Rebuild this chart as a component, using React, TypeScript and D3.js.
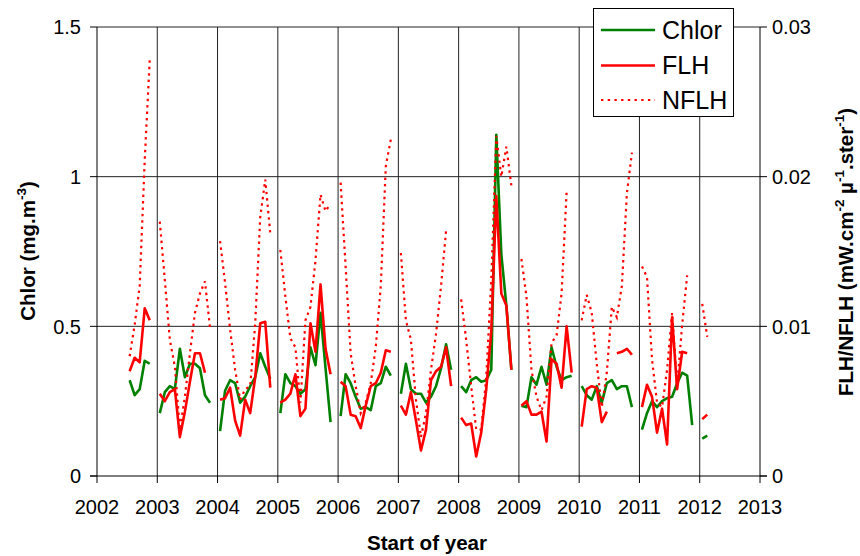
import React from 'react';
import * as d3 from 'd3';

const months: string[] = [
  '2002-07','2002-08','2002-09','2002-10','2002-11','2002-12',
  '2003-01','2003-02','2003-03','2003-04','2003-05','2003-06','2003-07','2003-08','2003-09','2003-10','2003-11','2003-12',
  '2004-01','2004-02','2004-03','2004-04','2004-05','2004-06','2004-07','2004-08','2004-09','2004-10','2004-11','2004-12',
  '2005-01','2005-02','2005-03','2005-04','2005-05','2005-06','2005-07','2005-08','2005-09','2005-10','2005-11','2005-12',
  '2006-01','2006-02','2006-03','2006-04','2006-05','2006-06','2006-07','2006-08','2006-09','2006-10','2006-11','2006-12',
  '2007-01','2007-02','2007-03','2007-04','2007-05','2007-06','2007-07','2007-08','2007-09','2007-10','2007-11','2007-12',
  '2008-01','2008-02','2008-03','2008-04','2008-05','2008-06','2008-07','2008-08','2008-09','2008-10','2008-11','2008-12',
  '2009-01','2009-02','2009-03','2009-04','2009-05','2009-06','2009-07','2009-08','2009-09','2009-10','2009-11','2009-12',
  '2010-01','2010-02','2010-03','2010-04','2010-05','2010-06','2010-07','2010-08','2010-09','2010-10','2010-11','2010-12',
  '2011-01','2011-02','2011-03','2011-04','2011-05','2011-06','2011-07','2011-08','2011-09','2011-10','2011-11','2011-12',
  '2012-01','2012-02',
];

const chlor: (number | null)[] = [
  0.32, 0.27, 0.29, 0.385, 0.375, null,
  0.21, 0.28, 0.30, 0.29, 0.425, 0.33, 0.375, 0.375, 0.36, 0.27, 0.245, null,
  0.15, 0.285, 0.32, 0.31, 0.245, 0.265, 0.30, 0.33, 0.41, 0.365, 0.325, null,
  0.21, 0.34, 0.31, 0.30, 0.275, 0.29, 0.43, 0.37, 0.545, 0.36, 0.18, null,
  0.20, 0.34, 0.31, 0.265, 0.225, 0.23, 0.22, 0.30, 0.31, 0.365, 0.335, null,
  0.275, 0.375, 0.29, 0.275, 0.275, 0.245, 0.265, 0.30, 0.36, 0.44, 0.355, null,
  0.30, 0.28, 0.32, 0.33, 0.315, 0.32, 0.355, 1.14, 0.74, 0.57, 0.355, null,
  0.235, 0.23, 0.33, 0.305, 0.365, 0.305, 0.43, 0.365, 0.32, 0.33, 0.335, null,
  0.30, 0.27, 0.255, 0.30, 0.245, 0.31, 0.32, 0.29, 0.30, 0.30, 0.23, null,
  0.155, 0.21, 0.25, 0.23, 0.25, 0.26, 0.265, 0.31, 0.345, 0.335, 0.17, null,
  0.125, 0.135,
];

const flh: (number | null)[] = [
  0.0070, 0.0079, 0.0076, 0.0112, 0.0104, null,
  0.0055, 0.0050, 0.0056, 0.0058, 0.0026, 0.0043, 0.0063, 0.0082, 0.0082, 0.0069, null, null,
  0.0051, 0.0052, 0.0059, 0.0037, 0.0027, 0.0051, 0.0042, 0.0066, 0.0102, 0.0103, 0.0059, null,
  0.0049, 0.0051, 0.0055, 0.0068, 0.0040, 0.0045, 0.0102, 0.0083, 0.0128, 0.0085, 0.0068, null,
  0.0063, 0.0060, 0.0041, 0.0040, 0.0032, 0.0047, 0.0060, 0.0062, 0.0069, 0.0084, 0.0083, null,
  0.0047, 0.0041, 0.0056, 0.0037, 0.0017, 0.0031, 0.0064, 0.0070, 0.0073, 0.0086, 0.0060, null,
  0.0039, 0.0034, 0.0035, 0.0013, 0.0029, 0.0058, 0.0097, 0.0187, 0.0122, 0.0114, 0.0071, null,
  0.0047, 0.0050, 0.0041, 0.0041, 0.0043, 0.0023, 0.0078, 0.0075, 0.0059, 0.0100, 0.0069, null,
  0.0033, 0.0058, 0.0060, 0.0059, 0.0036, 0.0043, null, 0.0082, 0.0083, 0.0085, 0.0081, null,
  0.0046, 0.0061, 0.0053, 0.0029, 0.0045, 0.0021, 0.0106, 0.0058, 0.0083, 0.0082, null, null,
  0.0038, 0.0041,
];

const nflh: (number | null)[] = [
  0.0080, 0.0101, 0.0127, 0.0211, 0.0278, null,
  0.0170, 0.0131, 0.0091, 0.0073, 0.0031, 0.0053, 0.0082, 0.0109, 0.0122, 0.0130, 0.0099, null,
  0.0157, 0.0129, 0.0098, 0.0071, 0.0051, 0.0058, 0.0060, 0.0102, 0.0173, 0.0198, 0.0162, null,
  0.0151, 0.0120, 0.0092, 0.0086, 0.0049, 0.0104, 0.0113, 0.0144, 0.0188, 0.0177, 0.0182, null,
  0.0196, 0.0140, 0.0082, 0.0060, 0.0042, 0.0049, 0.0062, 0.0086, 0.0127, 0.0207, 0.0225, null,
  0.0149, 0.0104, 0.0091, 0.0051, 0.0026, 0.0042, 0.0071, 0.0095, 0.0127, 0.0164, null, null,
  0.0118, 0.0091, 0.0060, 0.0031, 0.0031, 0.0066, 0.0131, 0.0227, 0.0200, 0.0220, 0.0194, null,
  0.0145, 0.0120, 0.0071, 0.0053, 0.0044, 0.0053, 0.0089, 0.0094, 0.0122, 0.0190, null, null,
  0.0104, 0.0121, 0.0109, 0.0075, 0.0046, 0.0069, 0.0113, 0.0106, 0.0127, 0.0189, 0.0216, null,
  0.0140, 0.0133, 0.0078, 0.0049, 0.0046, 0.0071, 0.0109, 0.0060, 0.0101, 0.0134, null, null,
  0.0115, 0.0093,
];

const leftTicks = [0, 0.5, 1, 1.5];
const rightTicks = [0, 0.01, 0.02, 0.03];
const yearTicks = [2002, 2003, 2004, 2005, 2006, 2007, 2008, 2009, 2010, 2011, 2012, 2013];
const seriesNames = ['Chlor', 'FLH', 'NFLH'];

const FONT = '"Liberation Sans", Arial, sans-serif';

function toYear(m: string): number {
  const [y, mo] = m.split('-').map(Number);
  return y + (mo - 0.5) / 12;
}

export default function App() {
  const W = 860;
  const H = 556;
  const x = d3.scaleLinear().domain([2002, 2013]).range([97, 760]);
  const yL = d3.scaleLinear().domain([0, 1.5]).range([476, 27]);
  const yR = d3.scaleLinear().domain([0, 0.03]).range([476, 27]);

  const mkPath = (vals: (number | null)[], y: d3.ScaleLinear<number, number>) =>
    d3
      .line<number | null>()
      .defined((d) => d != null)
      .x((_d, i) => x(toYear(months[i])))
      .y((d) => y(d as number))(vals) || '';

  const [x0, x1] = x.range();
  const [yb, yt] = yL.range();

  const legendX = 593.5;
  const legendY = 8.5;
  const legendRows = [30, 65.5, 100];

  return (
    <svg width={W} height={H} style={{ position: 'absolute', left: 0, top: 0, background: '#fff' }} fontFamily={FONT}>
      <rect x={0} y={0} width={W} height={H} fill="#fff" />
      {/* grid */}
      {yearTicks.slice(1, -1).map((yr) => (
        <line key={'vg' + yr} x1={x(yr)} x2={x(yr)} y1={yt} y2={yb} stroke="#222" strokeWidth={1} />
      ))}
      {leftTicks.slice(1).map((v) => (
        <line key={'hg' + v} x1={x0} x2={x1} y1={yL(v)} y2={yL(v)} stroke="#222" strokeWidth={1} />
      ))}
      {/* axes */}
      <line x1={x0} x2={x0} y1={yt} y2={yb} stroke="#000" />
      <line x1={x1} x2={x1} y1={yt} y2={yb} stroke="#000" />
      <line x1={x0 - 7} x2={x1 + 7} y1={yb} y2={yb} stroke="#000" />
      {leftTicks.map((v) => (
        <g key={'lt' + v}>
          <line x1={x0 - 7} x2={x0} y1={yL(v)} y2={yL(v)} stroke="#000" />
          <text x={x0 - 16} y={yL(v)} dy="0.36em" textAnchor="end" fontSize={20} fill="#000">
            {String(v)}
          </text>
        </g>
      ))}
      {rightTicks.map((v) => (
        <g key={'rt' + v}>
          <line x1={x1} x2={x1 + 7} y1={yR(v)} y2={yR(v)} stroke="#000" />
          <text x={x1 + 12} y={yR(v)} dy="0.36em" textAnchor="start" fontSize={20} fill="#000">
            {String(v)}
          </text>
        </g>
      ))}
      {yearTicks.map((yr) => (
        <g key={'xt' + yr}>
          <line x1={x(yr)} x2={x(yr)} y1={yb} y2={yb + 7} stroke="#000" />
          <text x={x(yr)} y={514} textAnchor="middle" fontSize={20} fill="#000">
            {String(yr)}
          </text>
        </g>
      ))}
      {/* series */}
      <path d={mkPath(chlor, yL)} fill="none" stroke="#008000" strokeWidth={2.6} strokeLinejoin="round" />
      <path d={mkPath(flh, yR)} fill="none" stroke="#ff0000" strokeWidth={2.6} strokeLinejoin="round" />
      <path d={mkPath(nflh, yR)} fill="none" stroke="#ff0000" strokeWidth={2.2} strokeDasharray="2.4 4" />
      {/* legend */}
      <rect x={legendX} y={legendY} width={140} height={108} fill="#fff" stroke="#000" strokeWidth={1} />
      {seriesNames.map((name, i) => (
        <g key={name}>
          <line
            x1={601}
            x2={655}
            y1={legendRows[i]}
            y2={legendRows[i]}
            stroke={i === 0 ? '#008000' : '#ff0000'}
            strokeWidth={i === 2 ? 2.2 : 2.6}
            strokeDasharray={i === 2 ? '2.4 4.3' : undefined}
          />
          <text x={662} y={legendRows[i] + 8.5} fontSize={25} fill="#000">
            {name}
          </text>
        </g>
      ))}
      {/* axis titles */}
      <text x={427} y={550} textAnchor="middle" fontSize={20.6} fontWeight="bold" fill="#000">
        Start of year
      </text>
      <text transform="translate(35,251) rotate(-90)" textAnchor="middle" fontSize={20.5} fontWeight="bold" fill="#000">
        Chlor (mg.m
        <tspan dy={-9} fontSize={13.5}>-3</tspan>
        <tspan dy={9}>)</tspan>
      </text>
      <text transform="translate(853,252) rotate(-90)" textAnchor="middle" fontSize={20.5} fontWeight="bold" fill="#000">
        FLH/NFLH (mW.cm
        <tspan dy={-9} fontSize={13.5}>-2</tspan>
        <tspan dy={9}> µ</tspan>
        <tspan dy={-9} fontSize={13.5}>-1</tspan>
        <tspan dy={9}>.ster</tspan>
        <tspan dy={-9} fontSize={13.5}>-1</tspan>
        <tspan dy={9}>)</tspan>
      </text>
    </svg>
  );
}
